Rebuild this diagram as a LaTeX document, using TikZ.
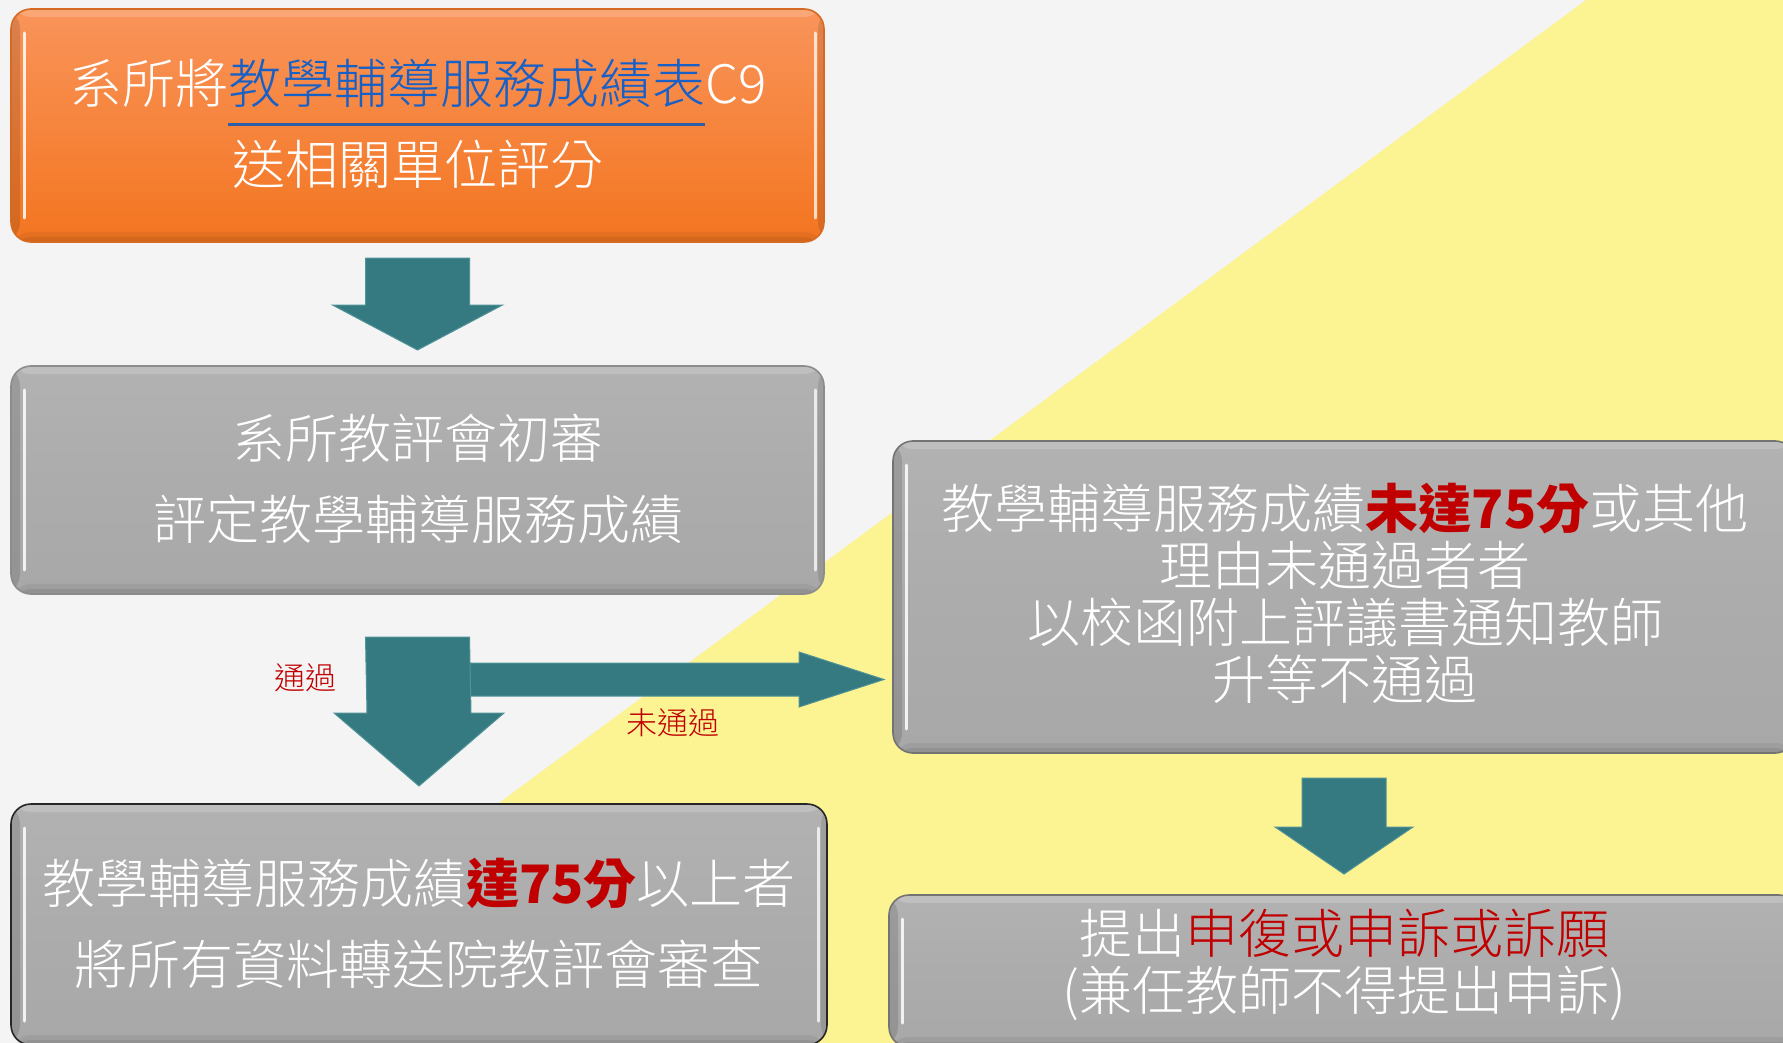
\documentclass[tikz,border=0pt]{standalone}
\usepackage{fontspec}
\newfontfamily\cjkreg{Noto Sans CJK TC}
\IfFontExistsTF{Noto Sans CJK TC Light}
  {\setmainfont{Noto Sans CJK TC Light}}
  {\setmainfont{Noto Sans CJK TC}}
\usetikzlibrary{calc}
\definecolor{bgc}{RGB}{244,244,244}
\definecolor{yel}{RGB}{252,243,146}
\definecolor{arrteal}{RGB}{52,122,128}
\definecolor{arredge}{RGB}{80,146,152}
\definecolor{grayA}{RGB}{178,178,178}
\definecolor{grayB}{RGB}{168,168,168}
\definecolor{orA}{RGB}{249,148,90}
\definecolor{orB}{RGB}{243,117,32}
\definecolor{oredge}{RGB}{214,106,34}
\definecolor{redtxt}{RGB}{192,0,0}
\definecolor{bluetxt}{RGB}{22,96,200}
\definecolor{ulblue}{RGB}{46,94,168}
\newsavebox\ulbox
\newcommand\blueul[1]{\sbox\ulbox{\color{bluetxt}#1}\rlap{\color{ulblue}\rule[-22pt]{\wd\ulbox}{3pt}}\usebox\ulbox}
\newcommand\redb[1]{{\cjkreg\bfseries\color{redtxt}#1}}
\begin{document}
\begin{tikzpicture}[x=1pt,y=-1pt,
  every node/.style={inner sep=0pt, outer sep=0pt},
  blockbase/.style={rounded corners=20pt, line width=1.6pt, anchor=north west},
  bevel/.style={path picture={
    \fill[white, opacity=.18] (path picture bounding box.north west) rectangle ([yshift=-8pt]path picture bounding box.north east);
    \fill[black, opacity=.06] ([yshift=10pt]path picture bounding box.south west) rectangle (path picture bounding box.south east);
    \fill[black, opacity=.07] ([yshift=5pt]path picture bounding box.south west) rectangle (path picture bounding box.south east);
    \fill[black, opacity=.12] (path picture bounding box.north west) rectangle ([xshift=9pt]path picture bounding box.south west);
    \fill[black, opacity=.10] ([xshift=-6pt]path picture bounding box.north east) rectangle (path picture bounding box.south east);
    \draw[white, opacity=.85, line width=3pt, line cap=round] ([xshift=13pt,yshift=-24pt]path picture bounding box.north west) -- ([xshift=13pt,yshift=24pt]path picture bounding box.south west);
    \draw[white, opacity=.75, line width=3pt, line cap=round] ([xshift=-9pt,yshift=-24pt]path picture bounding box.north east) -- ([xshift=-9pt,yshift=24pt]path picture bounding box.south east);
  }},
  orangeblock/.style={blockbase, bevel, draw=oredge, top color=orA, bottom color=orB},
  grayblock/.style={blockbase, bevel, draw=black!45, top color=grayA, bottom color=grayB, middle color={rgb,255:red,172;green,172;blue,172}},
  boxtext/.style={text=white, align=center, font=\fontsize{53pt}{81pt}\selectfont},
  tighttext/.style={boxtext, font=\fontsize{53pt}{57pt}\selectfont},
  lbl/.style={text=redtxt, font=\fontsize{31pt}{31pt}\selectfont},
  blockarrow/.style={fill=arrteal, draw=arredge, line width=1pt, line join=miter},
]
\useasboundingbox (0,0) rectangle (1783,1043);
\fill[bgc] (0,0) rectangle (1783,1043);
\fill[yel] (174,1043) -- (1586,0) -- (1783,0) -- (1783,1043) -- cycle;

% boxes
\node[orangeblock, minimum width=813pt, minimum height=233pt] (send) at (11,9) {};
\node[boxtext] (sendtxt) at (418,124) {系所將\blueul{教學輔導服務成績表}C9\\送相關單位評分};

\node[grayblock, minimum width=813pt, minimum height=228pt] (review) at (11,366) {};
\node[boxtext] (reviewtxt) at (418,479) {系所教評會初審\\評定教學輔導服務成績};

\node[grayblock, draw=black!85, minimum width=816pt, minimum height=241pt] (pass) at (11,804) {};
\node[boxtext] (passtxt) at (419,923) {教學輔導服務成績\redb{達75分}以上者\\將所有資料轉送院教評會審查};

\node[grayblock, draw=black!55, minimum width=902pt, minimum height=312pt] (fail) at (893,441) {};
\node[tighttext] (failtxt) at (1345,593) {教學輔導服務成績\redb{未達75分}或其他\\理由未通過者者\\以校函附上評議書通知教師\\升等不通過};

\node[grayblock, draw=black!55, minimum width=910pt, minimum height=152pt] (appeal) at (889,895) {};
\node[tighttext] (appealtxt) at (1344,965) {提出\textcolor{redtxt}{申復或申訴或訴願}\\(兼任教師不得提出申訴)};

% arrow send -> review
\draw[blockarrow] ($(send.south)+(-52,16)$) -- ($(send.south)+(52,16)$) -- ($(review.north)+(52,-61)$) -- ($(review.north)+(85,-61)$) -- ($(review.north)+(0,-16)$) -- ($(review.north)+(-85,-61)$) -- ($(review.north)+(-52,-61)$) -- cycle;

% arrow review -> fail (horizontal branch)
\coordinate (branch) at (440,679.5);
\coordinate (failin) at ($(fail.west |- branch)+(-9,0)$);
\draw[blockarrow] ($(branch)+(0,-16.5)$) -- ($(failin)+(-85,-16.5)$) -- ($(failin)+(-85,-27.5)$) -- (failin) -- ($(failin)+(-85,27.5)$) -- ($(failin)+(-85,16.5)$) -- ($(branch)+(0,16.5)$) -- cycle;

% arrow review -> pass
\draw[blockarrow] ($(review.south)+(-52,43)$) -- ($(review.south)+(52,43)$) -- ($(pass.north)+(52,-91)$) -- ($(pass.north)+(85,-91)$) -- ($(pass.north)+(0,-18)$) -- ($(pass.north)+(-85,-91)$) -- ($(pass.north)+(-52,-91)$) -- cycle;

% arrow fail -> appeal
\draw[blockarrow] ($(fail.south)+(-42,25)$) -- ($(fail.south)+(42,25)$) -- ($(appeal.north)+(42,-68)$) -- ($(appeal.north)+(69,-68)$) -- ($(appeal.north)+(0,-21)$) -- ($(appeal.north)+(-69,-68)$) -- ($(appeal.north)+(-42,-68)$) -- cycle;

% labels
\node[lbl] (passlbl) at (305,678) {通過};
\node[lbl] (faillbl) at (673,723) {未通過};
\end{tikzpicture}
\end{document}
